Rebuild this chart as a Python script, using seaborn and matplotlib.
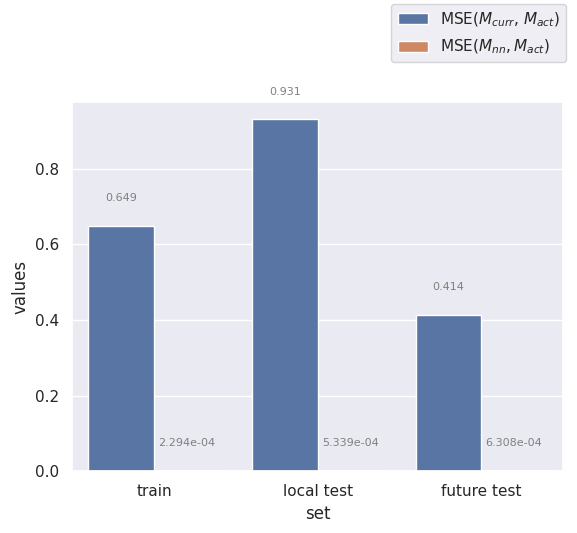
import matplotlib
matplotlib.use("Agg")
import matplotlib.pyplot as plt
import pandas as pd
import seaborn as sns

sets = ["train", "local test", "future test"]
mse_curr = [0.649, 0.931, 0.414]
mse_nn = [2.294e-04, 5.339e-04, 6.308e-04]
series = [r"MSE($M_{curr}$, $M_{act}$)", r"MSE($M_{nn}, M_{act}$)"]

df = pd.DataFrame({
    "set": sets * 2,
    "values": mse_curr + mse_nn,
    "metric": [series[0]] * 3 + [series[1]] * 3,
})

sns.set_theme()
fig, ax = plt.subplots(figsize=(5.77, 5.33), dpi=100)
sns.barplot(data=df, x="set", y="values", hue="metric", ax=ax)

for container, vals, fmt in zip(ax.containers, [mse_curr, mse_nn], ["{:.3f}", "{:.3e}"]):
    for bar, v in zip(container, vals):
        ax.text(bar.get_x() + bar.get_width() / 2, bar.get_height() + 0.06,
                fmt.format(v), ha="center", va="bottom", fontsize=8, color="gray")

ax.legend(loc="upper right", bbox_to_anchor=(1.022, 1.285), fontsize=11,
          labelspacing=0.6)
plt.subplots_adjust(left=0.125, right=0.976, top=0.809, bottom=0.116)
fig.savefig("out.png", dpi=100)
